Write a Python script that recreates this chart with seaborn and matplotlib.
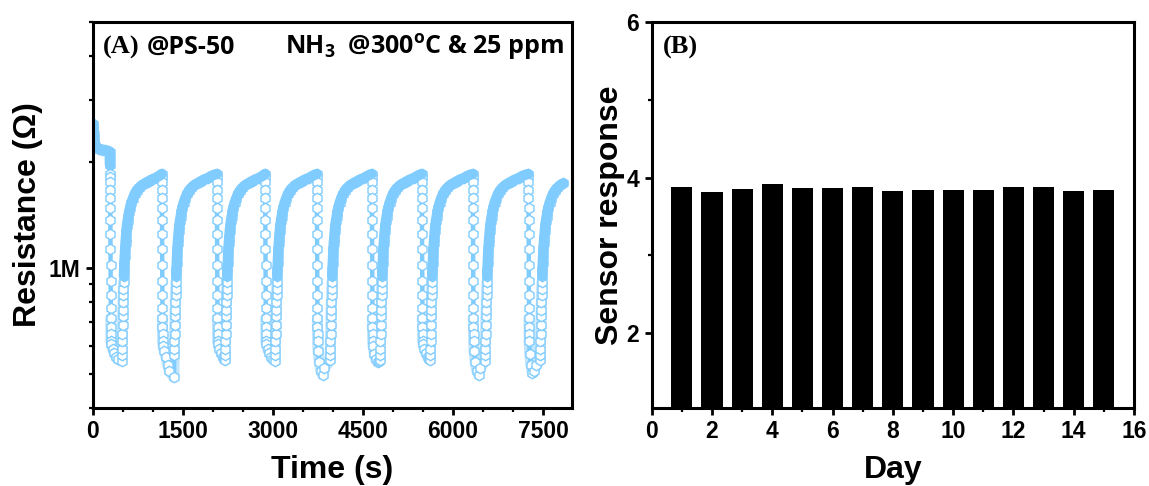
import numpy as np
import pandas as pd
import matplotlib
matplotlib.use("Agg")
import matplotlib.pyplot as plt
import seaborn as sns
from matplotlib.ticker import FixedLocator, MultipleLocator, NullFormatter, FixedFormatter

# ---------------- Panel A data ----------------
start_t = [0, 4, 8, 12, 16, 20, 28, 40, 60, 100, 150, 200, 250, 278, 281, 283]
start_R = [2.57, 2.52, 2.46, 2.40, 2.34, 2.28, 2.23, 2.20, 2.19, 2.18, 2.17, 2.16, 2.15, 2.14, 2.06, 1.96]

drop_t = [284, 1145, 2062, 2867, 3728, 4645, 5478, 6328, 7255]
recovery_t = [478, 1350, 2200, 3033, 3950, 4783, 5617, 6533, 7450]

drop_offsets = [0, 1, 2, 3, 4, 5, 6, 7, 8, 9, 10, 11, 12, 13, 14, 15, 16]
drop_R = [1.85, 1.81, 1.75, 1.67, 1.58, 1.48, 1.37, 1.25, 1.13, 1.02, 0.92, 0.84, 0.77, 0.72, 0.68, 0.65, 0.62]

bottom_offsets = [25, 45, 70, 100, 130]
bottom_R = [
    [0.61, 0.59, 0.575, 0.56, 0.55],
    [0.60, 0.58, 0.56, 0.53, 0.51],
    [0.61, 0.59, 0.575, 0.56, 0.55],
    [0.61, 0.59, 0.575, 0.56, 0.55],
    [0.58, 0.54, 0.51, 0.497, 0.52],
    [0.60, 0.57, 0.55, 0.54, 0.545],
    [0.61, 0.59, 0.575, 0.56, 0.55],
    [0.58, 0.54, 0.51, 0.497, 0.52],
    [0.57, 0.53, 0.503, 0.51, 0.53],
]
recovery_min_R = [0.545, 0.489, 0.547, 0.545, 0.547, 0.547, 0.547, 0.545, 0.547]
recovery_offsets = [0, 3, 6, 9, 12, 15, 18, 21, 24, 27, 30, 34, 38, 42, 47, 52, 58, 65, 72, 80,
                    90, 100, 112, 125, 140, 160, 185, 215, 250, 290, 340, 390, 440, 490, 560, 633]
recovery_R = [0.565, 0.59, 0.62, 0.65, 0.69, 0.73, 0.76, 0.80, 0.84, 0.87, 0.91, 0.95, 0.99,
              1.03, 1.08, 1.13, 1.18, 1.22, 1.27, 1.32, 1.36, 1.40, 1.44, 1.48, 1.53, 1.57,
              1.62, 1.66, 1.69, 1.72, 1.74, 1.76, 1.78, 1.80, 1.83]
end_time = 7840

# ---------------- Panel B data ----------------
days = [1, 2, 3, 4, 5, 6, 7, 8, 9, 10, 11, 12, 13, 14, 15]
response = [3.875, 3.816, 3.858, 3.923, 3.871, 3.867, 3.88, 3.833, 3.842, 3.837,
            3.842, 3.875, 3.875, 3.829, 3.845]

# ---------------- assemble time series ----------------
ts, rs = list(start_t), list(start_R)
band_t, band_r, band_u = list(start_t), list(start_R), [0] * len(start_t)
low_t, low_r, low_u = [], [], []
for i in range(len(drop_t)):
    for o, r in zip(drop_offsets, drop_R):
        ts.append(drop_t[i] + o); rs.append(r)
        if r <= 0.72:
            low_t.append(drop_t[i] + o); low_r.append(r); low_u.append(i)
    for o, r in zip(bottom_offsets, bottom_R[i]):
        if drop_t[i] + o < recovery_t[i]:
            ts.append(drop_t[i] + o); rs.append(r)
            low_t.append(drop_t[i] + o); low_r.append(r); low_u.append(i)
    nxt = drop_t[i + 1] if i + 1 < len(drop_t) else end_time + 1
    for o, r in zip(recovery_offsets, [recovery_min_R[i]] + recovery_R):
        t = recovery_t[i] + o
        if t < nxt and t <= end_time:
            ts.append(t); rs.append(r)
            if r >= 0.95:   # dense, merged part of the recovery trace
                band_t.append(t); band_r.append(r); band_u.append(i + 1)
            else:           # lighter, stacked part near the minimum
                low_t.append(t); low_r.append(r); low_u.append(i)
    if i + 1 < len(drop_t):
        band_t.append(nxt); band_r.append(drop_R[0]); band_u.append(i + 1)

dfA = pd.DataFrame({"time": ts, "R": np.array(rs) * 1e6})
dfBand = pd.DataFrame({"time": band_t, "R": np.array(band_r) * 1e6, "cycle": band_u})
dfLow = pd.DataFrame({"time": low_t, "R": np.array(low_r) * 1e6, "cycle": low_u})
dfB = pd.DataFrame({"day": days, "resp": response})

# ---------------- style ----------------
sns.set_theme(style="ticks")
plt.rcParams["font.family"] = ["Liberation Sans", "DejaVu Sans"]
plt.rcParams["font.weight"] = "bold"
for k in ("text.color", "axes.labelcolor", "xtick.color", "ytick.color", "axes.edgecolor"):
    plt.rcParams[k] = "black"
plt.rcParams["mathtext.fontset"] = "custom"
plt.rcParams["mathtext.rm"] = "Open Sans:bold"
plt.rcParams["mathtext.bf"] = "Open Sans:bold"
plt.rcParams["mathtext.it"] = "Open Sans:bold"

fig = plt.figure(figsize=(11.49, 4.86), dpi=100)
axA = fig.add_axes([0.0809, 0.1605, 0.4167, 0.7942])
axB = fig.add_axes([0.5672, 0.1605, 0.4197, 0.7942])

blue = "#80CCFF"
light_blue = "#C4E6FD"
sns.lineplot(data=dfLow, x="time", y="R", units="cycle", sort=False, estimator=None, ax=axA,
             color=light_blue, linewidth=8, solid_capstyle="round", solid_joinstyle="round")
sns.lineplot(data=dfA, x="time", y="R", sort=False, estimator=None, ax=axA,
             color=blue, linewidth=3.2, marker="h", markersize=7.5,
             markerfacecolor="white", markeredgecolor=blue, markeredgewidth=1.0)
sns.lineplot(data=dfBand, x="time", y="R", units="cycle", sort=False, estimator=None, ax=axA,
             color=blue, linewidth=7.5, solid_capstyle="round", solid_joinstyle="round")

axA.set_yscale("log")
axA.set_ylim(4e5, 5e6)
axA.set_xlim(0, 7980)
axA.yaxis.set_major_locator(FixedLocator([1e6]))
axA.yaxis.set_major_formatter(FixedFormatter(["1M"]))
axA.yaxis.set_minor_locator(FixedLocator([4e5, 5e5, 6e5, 7e5, 8e5, 9e5, 2e6, 3e6, 4e6, 5e6]))
axA.yaxis.set_minor_formatter(NullFormatter())
axA.xaxis.set_major_locator(MultipleLocator(1500))
axA.xaxis.set_minor_locator(MultipleLocator(500))

sns.barplot(data=dfB, x="day", y="resp", native_scale=True, color="black", width=0.7,
            errorbar=None, saturation=1, linewidth=0, ax=axB)
axB.set_xlim(0, 16)
axB.set_ylim(1.04, 6)
axB.xaxis.set_major_locator(MultipleLocator(2))
axB.xaxis.set_minor_locator(MultipleLocator(1))
axB.yaxis.set_major_locator(FixedLocator([2, 4, 6]))
axB.yaxis.set_minor_locator(FixedLocator([3, 5]))

for ax in (axA, axB):
    for s in ax.spines.values():
        s.set_linewidth(2.2)
        s.set_color("black")
        s.set_visible(True)
    ax.tick_params(which="major", direction="out", length=5, width=2.0, color="black",
                   labelcolor="black", labelsize=16.5, pad=4, top=False, right=False)
    ax.tick_params(which="minor", direction="out", length=3, width=1.6, color="black",
                   top=False, right=False)
    for lab in ax.get_xticklabels() + ax.get_yticklabels():
        lab.set_fontweight("bold")

axA.set_xlabel("Time (s)", fontsize=23, fontweight="bold", labelpad=8)
axA.set_ylabel("Resistance (Ω)", fontsize=23, fontweight="bold", labelpad=4)
axB.set_xlabel("Day", fontsize=23, fontweight="bold", labelpad=8)
axB.set_ylabel("Sensor response", fontsize=23, fontweight="bold", labelpad=1)

axA.text(0.021, 0.935, "(A)", transform=axA.transAxes, fontsize=19, fontweight="bold",
         family=["Liberation Serif"], va="center", ha="left")
axA.text(0.112, 0.935, "@PS-50", transform=axA.transAxes, fontsize=18, fontweight="bold",
         family=["Open Sans"], va="center", ha="left")
axA.text(0.984, 0.935, r"NH$_\mathbf{3}$  @300$^\mathbf{o}$C & 25 ppm", transform=axA.transAxes,
         fontsize=18, fontweight="bold", family=["Open Sans"], va="center", ha="right")
axB.text(0.023, 0.935, "(B)", transform=axB.transAxes, fontsize=19, fontweight="bold",
         family=["Liberation Serif"], va="center", ha="left")

fig.savefig("out.png", dpi=100)
